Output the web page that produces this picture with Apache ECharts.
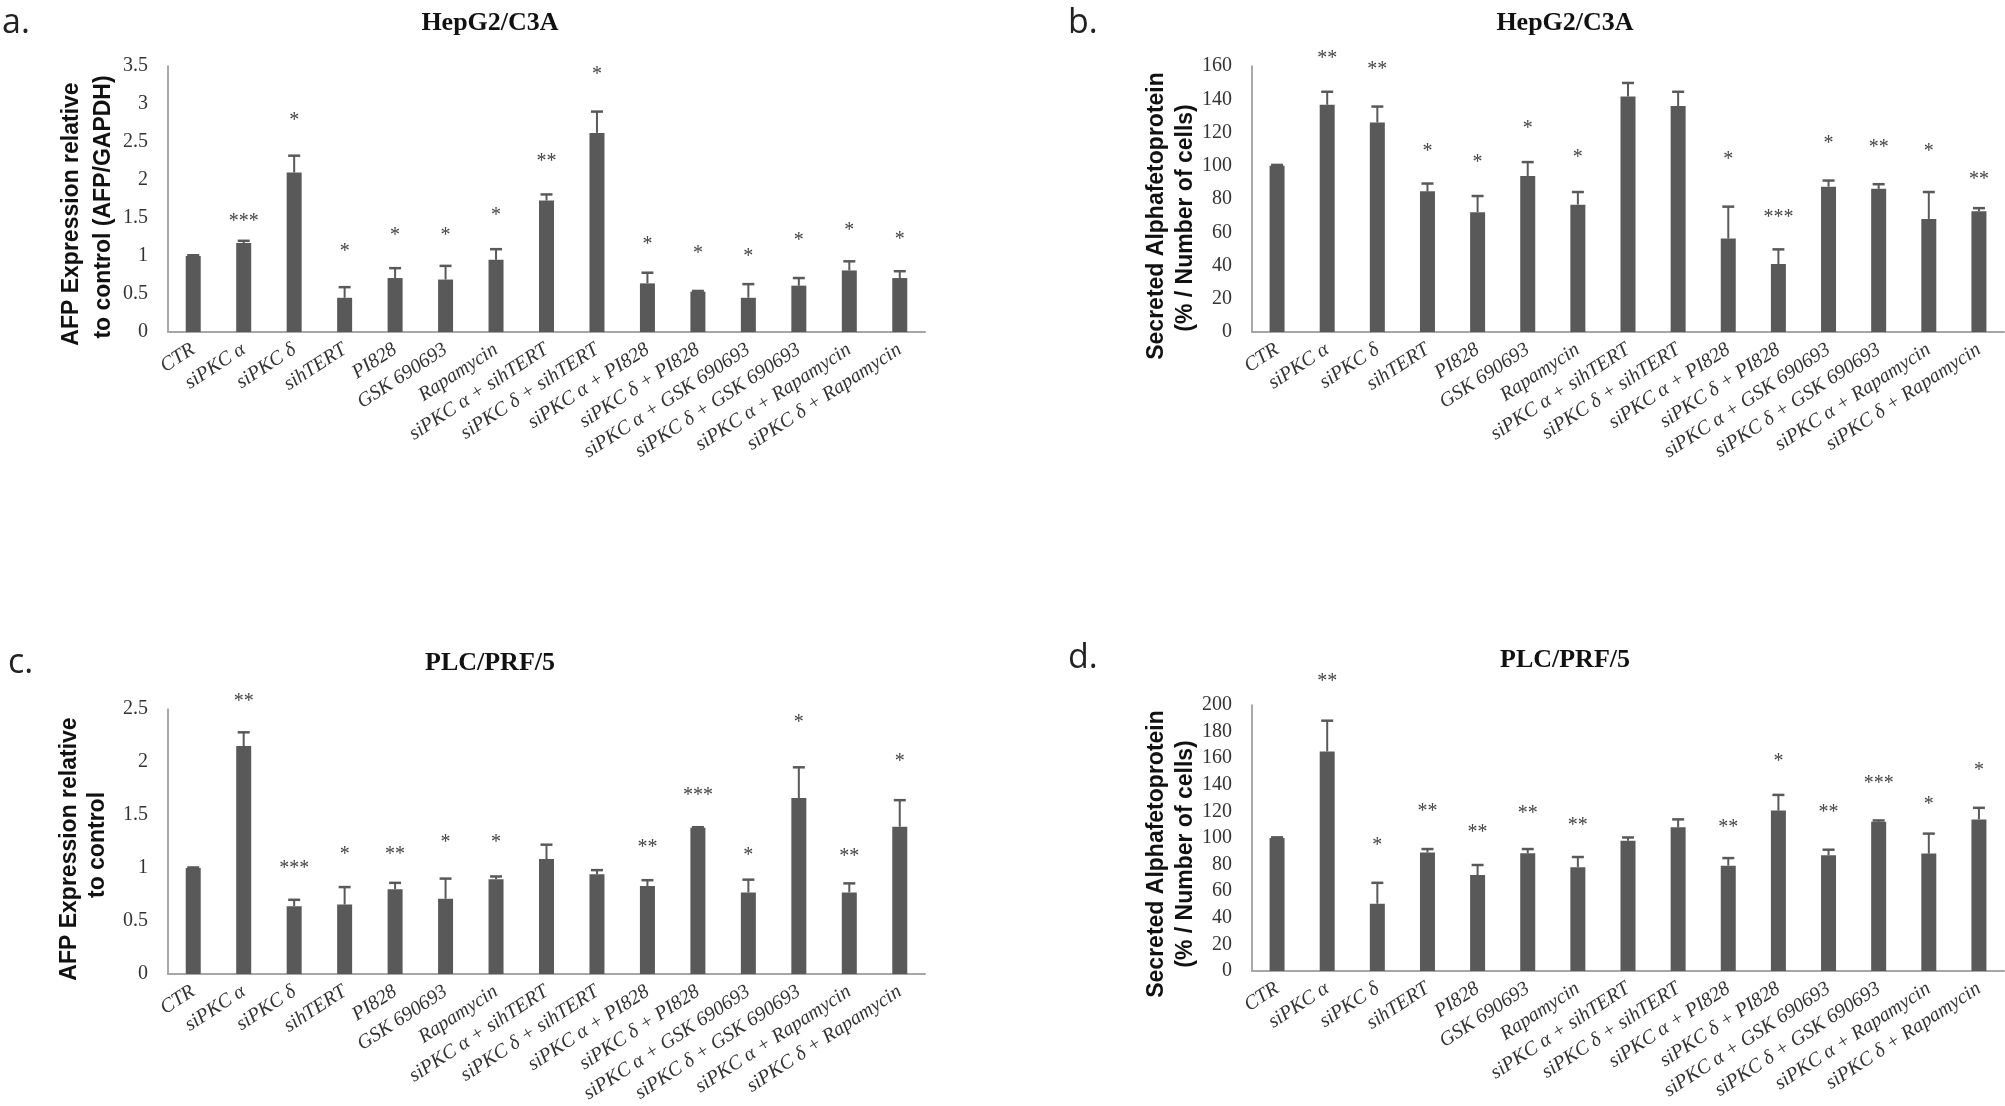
<!DOCTYPE html>
<html>
<head>
<meta charset="utf-8">
<script src="https://cdn.jsdelivr.net/npm/echarts@6/dist/echarts.min.js"></script>
<style>
html,body{margin:0;padding:0;background:#fff;}
#chart{width:2005px;height:1106px;}
</style>
</head>
<body>
<div id="chart"></div>
<script>
// ---------- DATA ----------
const categories = ["CTR","siPKC α","siPKC δ","sihTERT","PI828","GSK 690693","Rapamycin",
  "siPKC α + sihTERT","siPKC δ + sihTERT","siPKC α + PI828","siPKC δ + PI828",
  "siPKC α + GSK 690693","siPKC δ + GSK 690693","siPKC α + Rapamycin","siPKC δ + Rapamycin"];

// Panel a: HepG2/C3A, AFP expression
const aMeans = [1.00,1.17,2.10,0.45,0.71,0.69,0.95,1.73,2.62,0.64,0.53,0.45,0.61,0.81,0.71];
const aErrs  = [0.01,0.03,0.22,0.14,0.13,0.18,0.14,0.08,0.28,0.14,0.01,0.18,0.10,0.12,0.09];
const aStars = ["","***","*","*","*","*","*","**","*","*","*","*","*","*","*"];
const aStarPos = [null,1.52,2.84,1.12,1.33,1.33,1.59,2.30,3.45,1.22,1.10,1.05,1.26,1.40,1.28];
const aTicks = {min:0,max:3.5,interval:0.5};

// Panel b: HepG2/C3A, secreted AFP
const bMeans = [100,136.7,126,84.6,72.1,93.8,76.6,141.7,135.9,56.2,40.9,87.4,86.1,68.0,72.6];
const bErrs  = [0.5,7.8,9.6,4.7,9.7,8.4,7.6,8.1,8.6,19.2,8.8,3.7,2.8,16.2,1.9];
const bStars = ["","**","**","*","*","*","*","","","*","***","*","**","*","**"];
const bStarPos = [null,167.5,160.6,111.5,105,125.5,107.7,null,null,106.8,71.7,116.3,113.7,111.5,94.7];
const bTicks = {min:0,max:160,interval:20};

// Panel c: PLC/PRF/5, AFP expression
const cMeans = [1.00,2.15,0.64,0.655,0.80,0.71,0.895,1.085,0.94,0.83,1.38,0.77,1.66,0.77,1.39];
const cErrs  = [0.005,0.13,0.06,0.165,0.06,0.19,0.025,0.135,0.04,0.055,0.005,0.12,0.29,0.085,0.25];
const cStars = ["","**","***","*","**","*","*","","","**","***","*","*","**","*"];
const cStarPos = [null,2.62,1.04,1.17,1.17,1.29,1.29,null,null,1.24,1.73,1.16,2.42,1.15,2.05];
const cTicks = {min:0,max:2.5,interval:0.5};

// Panel d: PLC/PRF/5, secreted AFP
const dMeans = [100,165.1,50.6,89.1,72.1,88.6,78.1,98.0,108.0,79.2,120.6,87.0,112.2,88.3,114.0];
const dErrs  = [0.5,23.1,15.7,2.6,7.6,3.1,7.6,2.4,6.0,5.7,11.8,4.2,1.0,15.0,8.7];
const dStars = ["","**","*","**","**","**","**","","","**","*","**","***","*","*"];
const dStarPos = [null,221.5,98.3,123.2,107.5,121.9,113.2,null,null,111.4,161.2,122.7,144.2,128.4,154.1];
const dTicks = {min:0,max:200,interval:20};

const panelTitles = ["HepG2/C3A","HepG2/C3A","PLC/PRF/5","PLC/PRF/5"];
const panelLetters = ["a.","b.","c.","d."];
const yNames = [
  ["AFP Expression relative","to control (AFP/GAPDH)"],
  ["Secreted Alphafetoprotein","(% / Number of cells)"],
  ["AFP Expression relative","to control"],
  ["Secreted Alphafetoprotein","(% / Number of cells)"]
];

// ---------- LAYOUT ----------
const BAR = '#595959';
const grids = [
  {left:168, top:66, width:757, height:266},
  {left:1252, top:66, width:752, height:266},
  {left:168, top:709, width:757, height:265},
  {left:1252, top:705, width:752, height:266}
];
const panels = [
  {m:aMeans,e:aErrs,s:aStars,sp:aStarPos,t:aTicks},
  {m:bMeans,e:bErrs,s:bStars,sp:bStarPos,t:bTicks},
  {m:cMeans,e:cErrs,s:cStars,sp:cStarPos,t:cTicks},
  {m:dMeans,e:dErrs,s:dStars,sp:dStarPos,t:dTicks}
];
const titlePos = [[490,23],[1565,23],[490,663],[1565,660]];
const letterPos = [[2,23],[1068,23],[8,663],[1068,658]];
const namePos = [[[72,214],[104,207]],[[1157,216],[1186,218]],[[70,849],[98,845]],[[1157,854],[1186,854]]];

const xAxes = [], yAxes = [], series = [], graphics = [];
panels.forEach((p, k) => {
  xAxes.push({
    type:'category', gridIndex:k, data:categories,
    axisTick:{show:false},
    axisLine:{lineStyle:{color:'#a6a6a6', width:2}},
    axisLabel:{interval:0, rotate:33, margin:16, fontFamily:'Liberation Serif', fontStyle:'italic', fontSize:20, color:'#333'}
  });
  yAxes.push({
    type:'value', gridIndex:k, min:p.t.min, max:p.t.max, interval:p.t.interval,
    axisLine:{show:true, lineStyle:{color:'#8c8c8c', width:1.5}},
    axisTick:{show:false}, splitLine:{show:false},
    axisLabel:{fontFamily:'Liberation Serif', fontSize:20, color:'#333', margin:20}
  });
  series.push({
    type:'bar', xAxisIndex:k, yAxisIndex:k, data:p.m, barWidth:15,
    itemStyle:{color:BAR}, animation:false
  });
  series.push({
    type:'custom', xAxisIndex:k, yAxisIndex:k, clip:false, animation:false,
    data:p.m.map((v,i)=>[i, v, v + p.e[i]]),
    renderItem:function(params, api){
      const p0 = api.coord([api.value(0), api.value(1)]);
      const p1 = api.coord([api.value(0), api.value(2)]);
      return {type:'group', children:[
        {type:'line', shape:{x1:p0[0],y1:p0[1],x2:p1[0],y2:p1[1]}, style:{stroke:BAR, lineWidth:2}},
        {type:'line', shape:{x1:p1[0]-6,y1:p1[1],x2:p1[0]+6,y2:p1[1]}, style:{stroke:BAR, lineWidth:2.5}}
      ]};
    }
  });
  series.push({
    type:'custom', xAxisIndex:k, yAxisIndex:k, clip:false, animation:false, silent:true,
    data:p.s.map((s,i)=>[i, p.sp[i] == null ? 0 : p.sp[i], s]),
    renderItem:function(params, api){
      const txt = p.s[params.dataIndex];
      if (!txt) return null;
      const pt = api.coord([api.value(0), api.value(1)]);
      return {type:'text', x:pt[0], y:pt[1]+5,
        style:{text:txt, fontFamily:'Liberation Serif', fontSize:20, fill:'#444', align:'center', verticalAlign:'middle'}};
    }
  });
  graphics.push({type:'text', x:titlePos[k][0], y:titlePos[k][1],
    style:{text:panelTitles[k], fontFamily:'Liberation Serif', fontWeight:'bold', fontSize:26, fill:'#111', align:'center', verticalAlign:'middle'}});
  graphics.push({type:'text', x:letterPos[k][0], y:letterPos[k][1],
    style:{text:panelLetters[k], fontFamily:'Open Sans', fontSize:34, fill:'#222', align:'left', verticalAlign:'middle'}});
  yNames[k].forEach((line, j) => {
    graphics.push({type:'text', x:namePos[k][j][0], y:namePos[k][j][1], rotation:Math.PI/2,
      style:{text:line, fontFamily:'Liberation Sans', fontWeight:'bold', fontSize:23, fill:'#111', align:'center', verticalAlign:'middle'}});
  });
});

const chart = echarts.init(document.getElementById('chart'), null, {renderer:'canvas'});
chart.setOption({
  backgroundColor:'#ffffff',
  animation:false,
  grid:grids.map(g=>Object.assign({containLabel:false}, g)),
  xAxis:xAxes, yAxis:yAxes, series:series, graphic:graphics
});
</script>
</body>
</html>
